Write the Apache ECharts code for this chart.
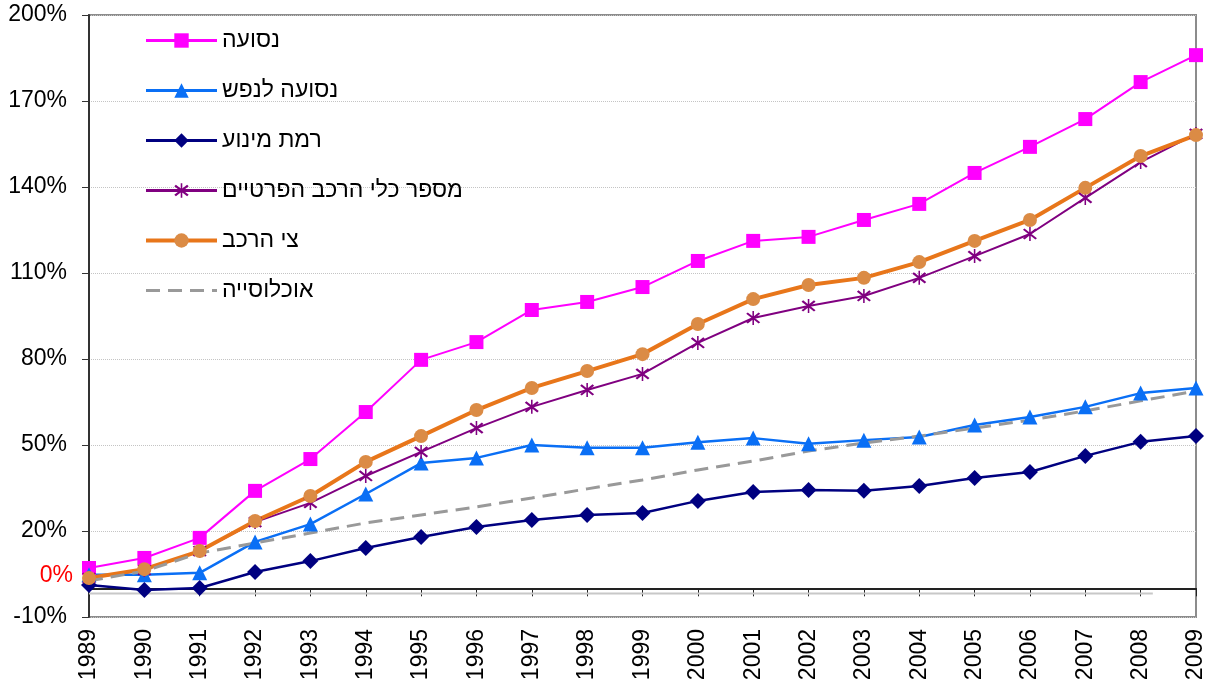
<!DOCTYPE html>
<html>
<head>
<meta charset="utf-8">
<script src="https://cdn.jsdelivr.net/npm/echarts@6/dist/echarts.min.js"></script>
<style>
	html, body { margin: 0; padding: 0; background: #fff; }
	#chart { width: 1209px; height: 686px; }
</style>
</head>
<body>
<div id="chart"></div>
<script>
	// years on the x axis
	var years = ['1989', '1990', '1991', '1992', '1993', '1994', '1995', '1996', '1997', '1998', '1999',
		'2000', '2001', '2002', '2003', '2004', '2005', '2006', '2007', '2008', '2009'];

	// y axis ticks: -10% .. 200% step 30
	var yMin = -10;
	var yMax = 200;
	var yStep = 30;

	// נסועה
	var travel = [7.1, 10.6, 17.6, 34.0, 45.1, 61.5, 79.7, 85.9, 97.1, 99.9, 105.1,
		114.2, 121.2, 122.6, 128.5, 134.1, 144.9, 154.0, 163.7, 176.6, 186.0];
	// נסועה לנפש
	var travelPerCapita = [4.7, 4.7, 5.4, 16.2, 22.4, 32.9, 43.7, 45.5, 50.0, 49.0, 49.0,
		51.0, 52.4, 50.4, 51.7, 52.8, 57.0, 59.8, 63.3, 68.1, 69.9];
	// רמת מינוע
	var motorization = [1.2, -0.6, 0.1, 5.7, 9.5, 14.1, 17.9, 21.4, 23.8, 25.6, 26.3,
		30.5, 33.6, 34.3, 34.0, 35.7, 38.5, 40.6, 46.2, 51.1, 53.1];
	// מספר כלי הרכב הפרטיים
	var privateCars = [3.6, 6.4, 13.0, 23.1, 29.8, 39.2, 47.6, 55.9, 63.3, 69.2, 74.8,
		85.6, 94.3, 98.5, 102.0, 108.3, 115.9, 123.6, 136.2, 148.7, 158.5];
	// צי הרכב
	var fleet = [3.6, 6.7, 13.0, 23.5, 32.2, 44.1, 53.1, 62.2, 69.9, 75.8, 81.7,
		92.2, 100.9, 105.8, 108.3, 113.8, 121.2, 128.5, 139.7, 150.8, 158.1];
	// אוכלוסייה
	var population = [2.6, 6.0, 12.3, 15.8, 19.3, 22.8, 25.6, 28.4, 31.5, 34.7, 37.8,
		41.3, 44.4, 47.9, 50.7, 53.1, 55.9, 58.7, 61.9, 65.4, 68.8];

	// thin grey base line (value, start/end as category position)
	var baseLineValue = -1.8;
	var baseLineFrom = 0;
	var baseLineTo = 19.22;

	// red "0%" label position
	var zeroLabelValue = 4.3;

	var names = ['נסועה', 'נסועה לנפש', 'רמת מינוע', 'מספר כלי הרכב הפרטיים', 'צי הרכב', 'אוכלוסייה'];

	var fontName = '"Liberation Sans", Arial, sans-serif';

	// asterisk marker
	var starPath = 'path://M1,4 L3,2 L19,16 L17,18 Z M17,2 L19,4 L3,18 L1,16 Z M9,0 L11,0 L11,20 L9,20 Z';

	function lineSeries(name, data, color, markColor, width, symbol, size) {
		return {
			name: name,
			type: 'line',
			data: data,
			symbol: symbol,
			symbolSize: size,
			lineStyle: { color: color, width: width },
			itemStyle: { color: markColor, borderWidth: 0 },
			emphasis: { disabled: true },
			z: 3
		};
	}

	var myChart = echarts.init(document.getElementById('chart'));

	// legend lines are a bit heavier than the plotted ones
	var legendWidths = [3, 3, 3, 3, 4, 3];
	var legendData = names.map(function(n, i) {
		var item = { name: n, lineStyle: { width: legendWidths[i] } };
		// population has no marker, also in the legend
		if (i === 5) item.itemStyle = { opacity: 0 };
		return item;
	});

	var option = {
		animation: false,
		grid: {
			left: 89,
			right: 13,
			top: 15,
			bottom: 69,
			show: true,
			borderColor: '#8c8c8c',
			borderWidth: 2,
			outerBoundsMode: 'none'
		},
		legend: {
			data: legendData,
			orient: 'vertical',
			left: 139,
			top: 24,
			itemWidth: 71,
			itemHeight: 18,
			itemGap: 27,
			textStyle: { fontFamily: fontName, fontSize: 23, color: '#000' },
			selectedMode: false
		},
		xAxis: [{
			type: 'category',
			data: years,
			boundaryGap: false,
			axisLine: { lineStyle: { color: '#222', width: 2 } },
			axisTick: { show: true, length: 8, lineStyle: { color: '#222', width: 1 } },
			axisLabel: { rotate: 90, margin: 12, fontFamily: fontName, fontSize: 23, color: '#000', interval: 0 },
			splitLine: { show: false }
		}, {
			// hidden helper axis for the grey base line
			type: 'value',
			min: 0,
			max: years.length - 1,
			show: false
		}],
		yAxis: {
			type: 'value',
			min: yMin,
			max: yMax,
			interval: yStep,
			axisLine: { show: true, lineStyle: { color: '#333', width: 2 } },
			axisTick: { show: true, length: 7, lineStyle: { color: '#333', width: 1 } },
			axisLabel: {
				margin: 22,
				fontFamily: fontName,
				fontSize: 23,
				color: '#000',
				formatter: function(v) { return v + '%'; }
			},
			splitLine: { show: true, lineStyle: { color: '#c4c4c4', width: 1, type: 'dotted' } }
		},
		series: [
			{
				name: 'base',
				type: 'line',
				xAxisIndex: 1,
				data: [[baseLineFrom, baseLineValue], [baseLineTo, baseLineValue]],
				symbol: 'none',
				lineStyle: { color: '#c8c8c8', width: 2 },
				silent: true,
				z: 2
			},
			lineSeries(names[0], travel, '#ff00ff', '#ff00ff', 2, 'rect', 14),
			lineSeries(names[1], travelPerCapita, '#0a6ff5', '#0a6ff5', 2.5, 'triangle', 15),
			lineSeries(names[2], motorization, '#000080', '#000080', 2.5, 'diamond', 16),
			lineSeries(names[3], privateCars, '#800080', '#800080', 2, starPath, 14),
			lineSeries(names[4], fleet, '#e8761a', '#db8b45', 4, 'circle', 14),
			{
				name: names[5],
				type: 'line',
				data: population,
				symbol: 'none',
				lineStyle: { color: '#999999', width: 3, type: [14, 8] },
				itemStyle: { color: '#999999' },
				emphasis: { disabled: true },
				z: 3
			}
		]
	};

	myChart.setOption(option);

	// red 0% label next to the axis
	var p = myChart.convertToPixel({ xAxisIndex: 0, yAxisIndex: 0 }, [0, zeroLabelValue]);
	myChart.setOption({
		graphic: [{
			type: 'text',
			x: p[0] - 16,
			y: p[1],
			style: {
				text: '0%',
				fill: '#ff0000',
				font: '23px ' + fontName,
				align: 'right',
				verticalAlign: 'middle'
			}
		}]
	});
</script>
</body>
</html>
